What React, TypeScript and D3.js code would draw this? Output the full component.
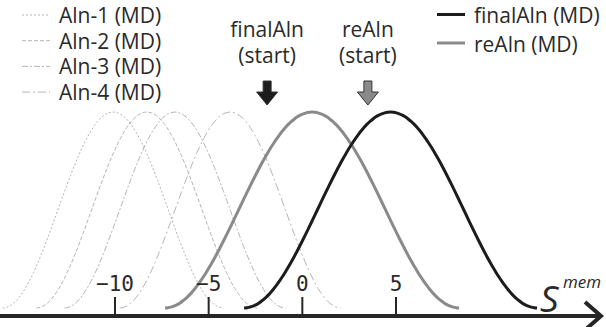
import React, { useEffect, useRef } from 'react';
import * as d3 from 'd3';

// MD runs: name, centre of the bump and half-width (in S^mem units)
const alnNames = ['Aln-1 (MD)', 'Aln-2 (MD)', 'Aln-3 (MD)', 'Aln-4 (MD)'];
const alnCenters = [-10.1, -8.3, -6.8, -3.85];
const alnHalfWidths = [5.9, 5.9, 5.9, 5.9];
const alnDashes = ['2,2', '4,2', '6,2,2,2', '8,3,2,3'];

const mainNames = ['finalAln (MD)', 'reAln (MD)'];
const mainCenters = [4.71, 0.52];
const mainHalfWidths = [7.82, 7.85];
const mainColors = ['#1c1c1c', '#8a8a8a'];

const startLabels = ['finalAln', 'reAln'];
const startValues = [-1.88, 3.5];
const startColors = ['#1c1c1c', '#8a8a8a'];

const tickValues = [-10, -5, 0, 5];

const textFont = '"Open Sans", sans-serif';
const textColor = '#2a2a2a';

const App = () => {
  const chartContainer = useRef(null);

  useEffect(() => {
    if (chartContainer.current) {
      d3.select(chartContainer.current).selectAll('*').remove();
      createChart();
    }
  }, []);

  const createChart = () => {
    const width = 606,
      height = 327,
      axisY = 316;

    const x = d3.scaleLinear().domain([-10, 5]).range([115, 396]);
    const y = d3.scaleLinear().domain([0, 1]).range([308, 112]);

    const svg = d3
      .select(chartContainer.current)
      .append('svg')
      .attr('width', width)
      .attr('height', height)
      .style('position', 'absolute')
      .style('left', 0)
      .style('top', 0)
      .style('background', 'white');

    // raised-cosine bump
    const bump = (c, hw) =>
      d3.range(0, 101).map((i) => {
        const t = -1 + (2 * i) / 100;
        return [c + t * hw, (1 + Math.cos(Math.PI * t)) / 2];
      });

    const line = d3
      .line()
      .x((d) => x(d[0]))
      .y((d) => y(d[1]))
      .curve(d3.curveBasis);

    // MD runs (light dashed)
    alnCenters.forEach((c, i) => {
      svg
        .append('path')
        .attr('d', line(bump(c, alnHalfWidths[i])))
        .attr('fill', 'none')
        .attr('stroke', '#b4b4b4')
        .attr('stroke-width', 1)
        .attr('stroke-dasharray', alnDashes[i]);
    });

    // reAln then finalAln
    [1, 0].forEach((i) => {
      svg
        .append('path')
        .attr('d', line(bump(mainCenters[i], mainHalfWidths[i])))
        .attr('fill', 'none')
        .attr('stroke', mainColors[i])
        .attr('stroke-width', 3);
    });

    // axis
    svg
      .append('line')
      .attr('x1', 0)
      .attr('x2', 600)
      .attr('y1', axisY)
      .attr('y2', axisY)
      .attr('stroke', '#262626')
      .attr('stroke-width', 4);
    svg
      .append('path')
      .attr('d', `M585,302 L601,${axisY} L585,330`)
      .attr('fill', 'none')
      .attr('stroke', '#262626')
      .attr('stroke-width', 4);

    tickValues.forEach((v) => {
      svg
        .append('line')
        .attr('x1', x(v))
        .attr('x2', x(v))
        .attr('y1', 297)
        .attr('y2', axisY)
        .attr('stroke', '#262626')
        .attr('stroke-width', 2);
      svg
        .append('text')
        .attr('x', x(v))
        .attr('y', 291)
        .attr('text-anchor', 'middle')
        .style('font-family', '"DejaVu Sans Mono", monospace')
        .style('font-size', '21px')
        .style('fill', textColor)
        .text(v < 0 ? '\u2212' + Math.abs(v) : String(v));
    });

    // S^mem label
    const s = svg
      .append('text')
      .attr('x', 540)
      .attr('y', 312)
      .style('font-family', textFont)
      .style('font-style', 'italic')
      .style('fill', textColor);
    s.append('tspan').style('font-size', '37px').text('S');
    s.append('tspan')
      .attr('x', 563)
      .attr('y', 288)
      .style('font-size', '17px')
      .text('mem');

    // left legend
    alnNames.forEach((n, i) => {
      const ly = 23 + i * 25.7;
      svg
        .append('line')
        .attr('x1', 22)
        .attr('x2', 50)
        .attr('y1', ly - 8)
        .attr('y2', ly - 8)
        .attr('stroke', '#b4b4b4')
        .attr('stroke-width', 1)
        .attr('stroke-dasharray', alnDashes[i]);
      svg
        .append('text')
        .attr('x', 59)
        .attr('y', ly)
        .style('font-family', textFont)
        .style('font-size', '21px')
        .style('fill', textColor)
        .text(n);
    });

    // right legend
    mainNames.forEach((n, i) => {
      const ly = 23 + i * 28.5;
      svg
        .append('line')
        .attr('x1', 437)
        .attr('x2', 465)
        .attr('y1', ly - 8.5)
        .attr('y2', ly - 8.5)
        .attr('stroke', mainColors[i])
        .attr('stroke-width', 3);
      svg
        .append('text')
        .attr('x', 474)
        .attr('y', ly)
        .style('font-family', textFont)
        .style('font-size', '21px')
        .style('fill', textColor)
        .text(n);
    });

    // start arrows
    startValues.forEach((v, i) => {
      const cx = x(v);
      svg
        .append('text')
        .attr('x', cx)
        .attr('y', 37)
        .attr('text-anchor', 'middle')
        .style('font-family', textFont)
        .style('font-size', '21px')
        .style('fill', textColor)
        .text(startLabels[i]);
      svg
        .append('text')
        .attr('x', cx)
        .attr('y', 63)
        .attr('text-anchor', 'middle')
        .style('font-family', textFont)
        .style('font-size', '21px')
        .style('fill', textColor)
        .text('(start)');
      const pts = [
        [cx - 4, 81],
        [cx + 4, 81],
        [cx + 4, 92],
        [cx + 10.5, 92],
        [cx, 105],
        [cx - 10.5, 92],
        [cx - 4, 92],
      ];
      svg
        .append('polygon')
        .attr('points', pts.map((p) => p.join(',')).join(' '))
        .attr('fill', startColors[i])
        .attr('stroke', '#333')
        .attr('stroke-width', 1);
    });
  };

  return <div id="chart" ref={chartContainer} />;
};

export default App;
